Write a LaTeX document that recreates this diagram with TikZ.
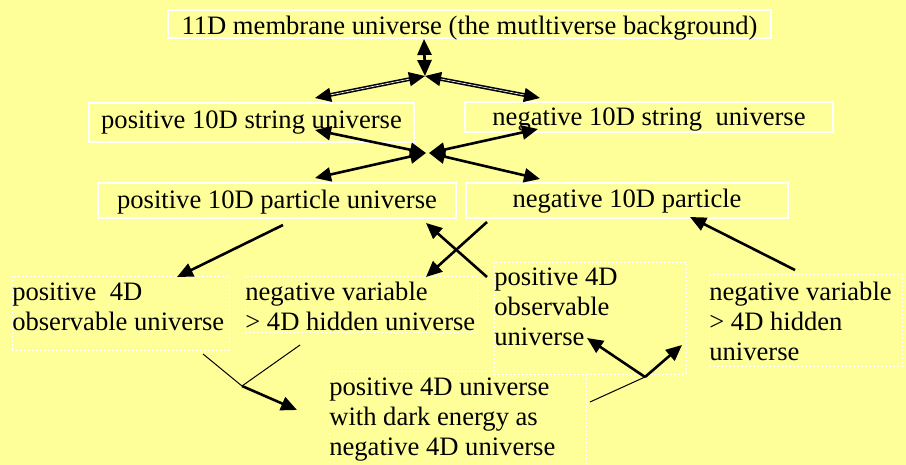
\documentclass[tikz,border=0pt]{standalone}
\usepackage{fontspec}
\setmainfont{Liberation Serif}
\usepackage{tikz}
\usetikzlibrary{arrows.meta}
\definecolor{mvyellow}{RGB}{255,255,153}
\newcommand{\mvtext}[4]{\parbox[t][#2][t]{#1}{\rule{0pt}{#3}#4}}
\tikzset{
  mv box/.style={
    rectangle, draw=white, line width=1pt,
    inner xsep=0pt, inner ysep=0pt,
    font=\fontsize{13.3}{15}\selectfont
  },
  mv frame/.style={
    rectangle, draw=white, line width=0.3pt, dash pattern=on 1pt off 1pt,
    inner sep=0pt, anchor=north west,
    font=\fontsize{13.3}{15}\selectfont
  },
  mv arrow/.style={
    line width=1.3pt, >={Triangle[length=8pt,width=7pt]}
  },
  mv double/.style={
    mv arrow, line width=0.8pt, double, double distance=0.3pt
  },
  mv line/.style={
    line width=0.5pt
  }
}
\begin{document}
\begin{tikzpicture}[x=0.5pt, y=-0.5pt]
  \fill[mvyellow] (0,0) rectangle (906,465);
  \useasboundingbox (0,0) rectangle (906,465);

  \node (mem) [mv box, minimum width=301.5pt, text height=12.5pt, text depth=1.5pt] at (469.5,24) {11D membrane universe (the mutltiverse background)};
  \node (pstr) [mv box, minimum width=162.5pt, text height=13pt, text depth=6.5pt] at (251.5,122.5) {positive 10D string universe};
  \node (nstr) [mv box, minimum width=184pt, text height=11.85pt, text depth=3.15pt] at (649,117) {negative 10D string\ \ universe};
  \node (ppar) [mv box, minimum width=179pt, text height=13pt, text depth=4.5pt] at (277,200.5) {positive 10D particle universe};
  \node (npar) [mv box, minimum width=161pt, text height=12.5pt, text depth=5pt] at (627,200.5) {negative 10D particle};

  \node (pobs) [mv frame] at (12,276) {\mvtext{108.5pt}{37pt}{12pt}{\mbox{positive\ \ 4D}\\\mbox{observable universe}}};
  \node (nhid) [mv frame] at (245,276) {\mvtext{116pt}{28pt}{12pt}{\mbox{negative variable}\\\mbox{> 4D hidden universe}}};
  \node (pobsr) [mv frame] at (494,262) {\mvtext{96pt}{56pt}{11.75pt}{\mbox{positive 4D}\\\mbox{observable}\\\mbox{universe}}};
  \node (nhidr) [mv frame] at (709,274) {\mvtext{96.5pt}{46pt}{13pt}{\mbox{negative variable}\\\mbox{> 4D hidden}\\\mbox{universe}}};
  \node (dark) [mv frame] at (329,371) {\mvtext{128.5pt}{52pt}{12pt}{\mbox{positive 4D universe}\\\mbox{with dark energy as}\\\mbox{negative 4D universe}}};

  \coordinate (t1) at (424,39);
  \coordinate (jt) at (425,76);
  \coordinate (t2) at (315,98);
  \coordinate (t3) at (540,98);
  \coordinate (jl) at (426,153);
  \coordinate (jr) at (429,153);
  \coordinate (m1) at (315,130);
  \coordinate (m2) at (315,178);
  \coordinate (m3) at (538,129);
  \coordinate (m4) at (540,179);
  \coordinate (a1) at (283,225);
  \coordinate (a2) at (177,277);
  \coordinate (c1) at (487,222);
  \coordinate (c2) at (426,277);
  \coordinate (c3) at (487,277);
  \coordinate (c4) at (426,223);
  \coordinate (r1) at (795,270);
  \coordinate (r2) at (690,217);
  \coordinate (b1) at (203,354);
  \coordinate (b2) at (300,345);
  \coordinate (bj) at (242,386);
  \coordinate (b3) at (297,410);
  \coordinate (d1) at (590,402);
  \coordinate (dj) at (645,377);
  \coordinate (d2) at (587,338);
  \coordinate (d3) at (682,345);

  \draw [mv arrow, <->] (t1) -- (jt);
  \draw [mv double, <->] (jt) -- (t2);
  \draw [mv double, <->] (jt) -- (t3);
  \draw [mv arrow, <->] (jl) -- (m1);
  \draw [mv arrow, <->] (jl) -- (m2);
  \draw [mv arrow, <->] (jr) -- (m3);
  \draw [mv arrow, <->] (jr) -- (m4);
  \draw [mv arrow, ->] (a1) -- (a2);
  \draw [mv arrow, ->] (c1) -- (c2);
  \draw [mv arrow, ->] (c3) -- (c4);
  \draw [mv arrow, ->] (r1) -- (r2);
  \draw [mv line] (b1) -- (bj);
  \draw [mv line] (b2) -- (bj);
  \draw [mv arrow, ->] (bj) -- (b3);
  \draw [mv line] (d1) -- (dj);
  \draw [mv arrow, ->] (dj) -- (d2);
  \draw [mv arrow, ->] (dj) -- (d3);
\end{tikzpicture}
\end{document}
